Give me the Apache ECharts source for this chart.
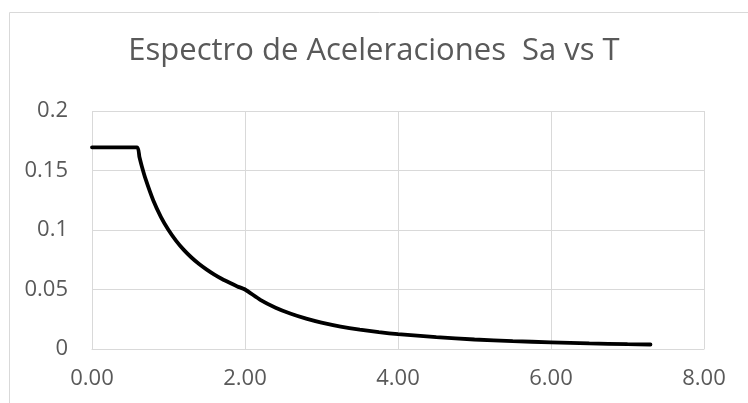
<!DOCTYPE html>
<html><head><meta charset="utf-8">
<script src="https://cdn.jsdelivr.net/npm/echarts@6/dist/echarts.min.js"></script>
<style>html,body{margin:0;padding:0;background:#fff}#c{width:748px;height:403px}</style>
</head><body><div id="c"></div>
<script>
const titleText = 'Espectro de Aceleraciones  Sa vs T';
const periodT = [0, 0.59, 0.62, 0.65, 0.7, 0.8, 0.9, 1.0, 1.1, 1.2, 1.3, 1.4, 1.5, 1.6, 1.7, 1.8, 1.9, 2.0, 2.2, 2.4, 2.6, 2.8, 3.0, 3.25, 3.5, 3.75, 4.0, 4.5, 5.0, 5.5, 6.0, 6.5, 7.0, 7.3];
const accelSa = [0.1695, 0.1695, 0.1613, 0.1538, 0.1429, 0.125, 0.1111, 0.1, 0.0909, 0.0833, 0.0769, 0.0714, 0.0667, 0.0625, 0.0588, 0.0556, 0.0526, 0.05, 0.0413, 0.0347, 0.0296, 0.0255, 0.0222, 0.0189, 0.0163, 0.0142, 0.0125, 0.0099, 0.008, 0.0066, 0.0056, 0.0047, 0.0041, 0.0038];
const xTicks = [0, 2, 4, 6, 8];
const yTicks = [0, 0.05, 0.1, 0.15, 0.2];

const chart = echarts.init(document.getElementById('c'));
const font = 'Open Sans';
chart.setOption({
  animation: false,
  title: {
    text: titleText, left: 'center', top: 31, padding: [5, 0, 5, 16],
    textStyle: {fontFamily: font, fontSize: 31, fontWeight: 'normal', color: '#595959'}
  },
  graphic: [{
    type: 'rect', silent: true,
    shape: {x: 9.5, y: 12.5, width: 900, height: 600},
    style: {fill: 'none', stroke: '#d9d9d9', lineWidth: 1}
  }],
  grid: {left: 92, right: 44, top: 111, bottom: 54, containLabel: false},
  xAxis: {
    type: 'value', min: xTicks[0], max: xTicks[xTicks.length - 1], interval: 2,
    axisLine: {show: true, lineStyle: {color: '#d9d9d9'}},
    axisTick: {show: false},
    splitLine: {show: true, lineStyle: {color: '#d9d9d9'}},
    axisLabel: {fontFamily: font, fontSize: 22, color: '#595959', margin: 19,
      formatter: v => v.toFixed(2)}
  },
  yAxis: {
    type: 'value', min: yTicks[0], max: yTicks[yTicks.length - 1], interval: 0.05,
    axisLine: {show: false}, axisTick: {show: false},
    splitLine: {show: true, lineStyle: {color: '#d9d9d9'}},
    axisLabel: {fontFamily: font, fontSize: 22, color: '#595959', margin: 24,
      formatter: v => String(+v.toFixed(2))}
  },
  series: [{
    type: 'line', data: periodT.map((t, i) => [t, accelSa[i]]),
    showSymbol: false, smooth: 0.2,
    lineStyle: {color: '#000', width: 3.8, cap: 'round'}
  }]
});
</script></body></html>
